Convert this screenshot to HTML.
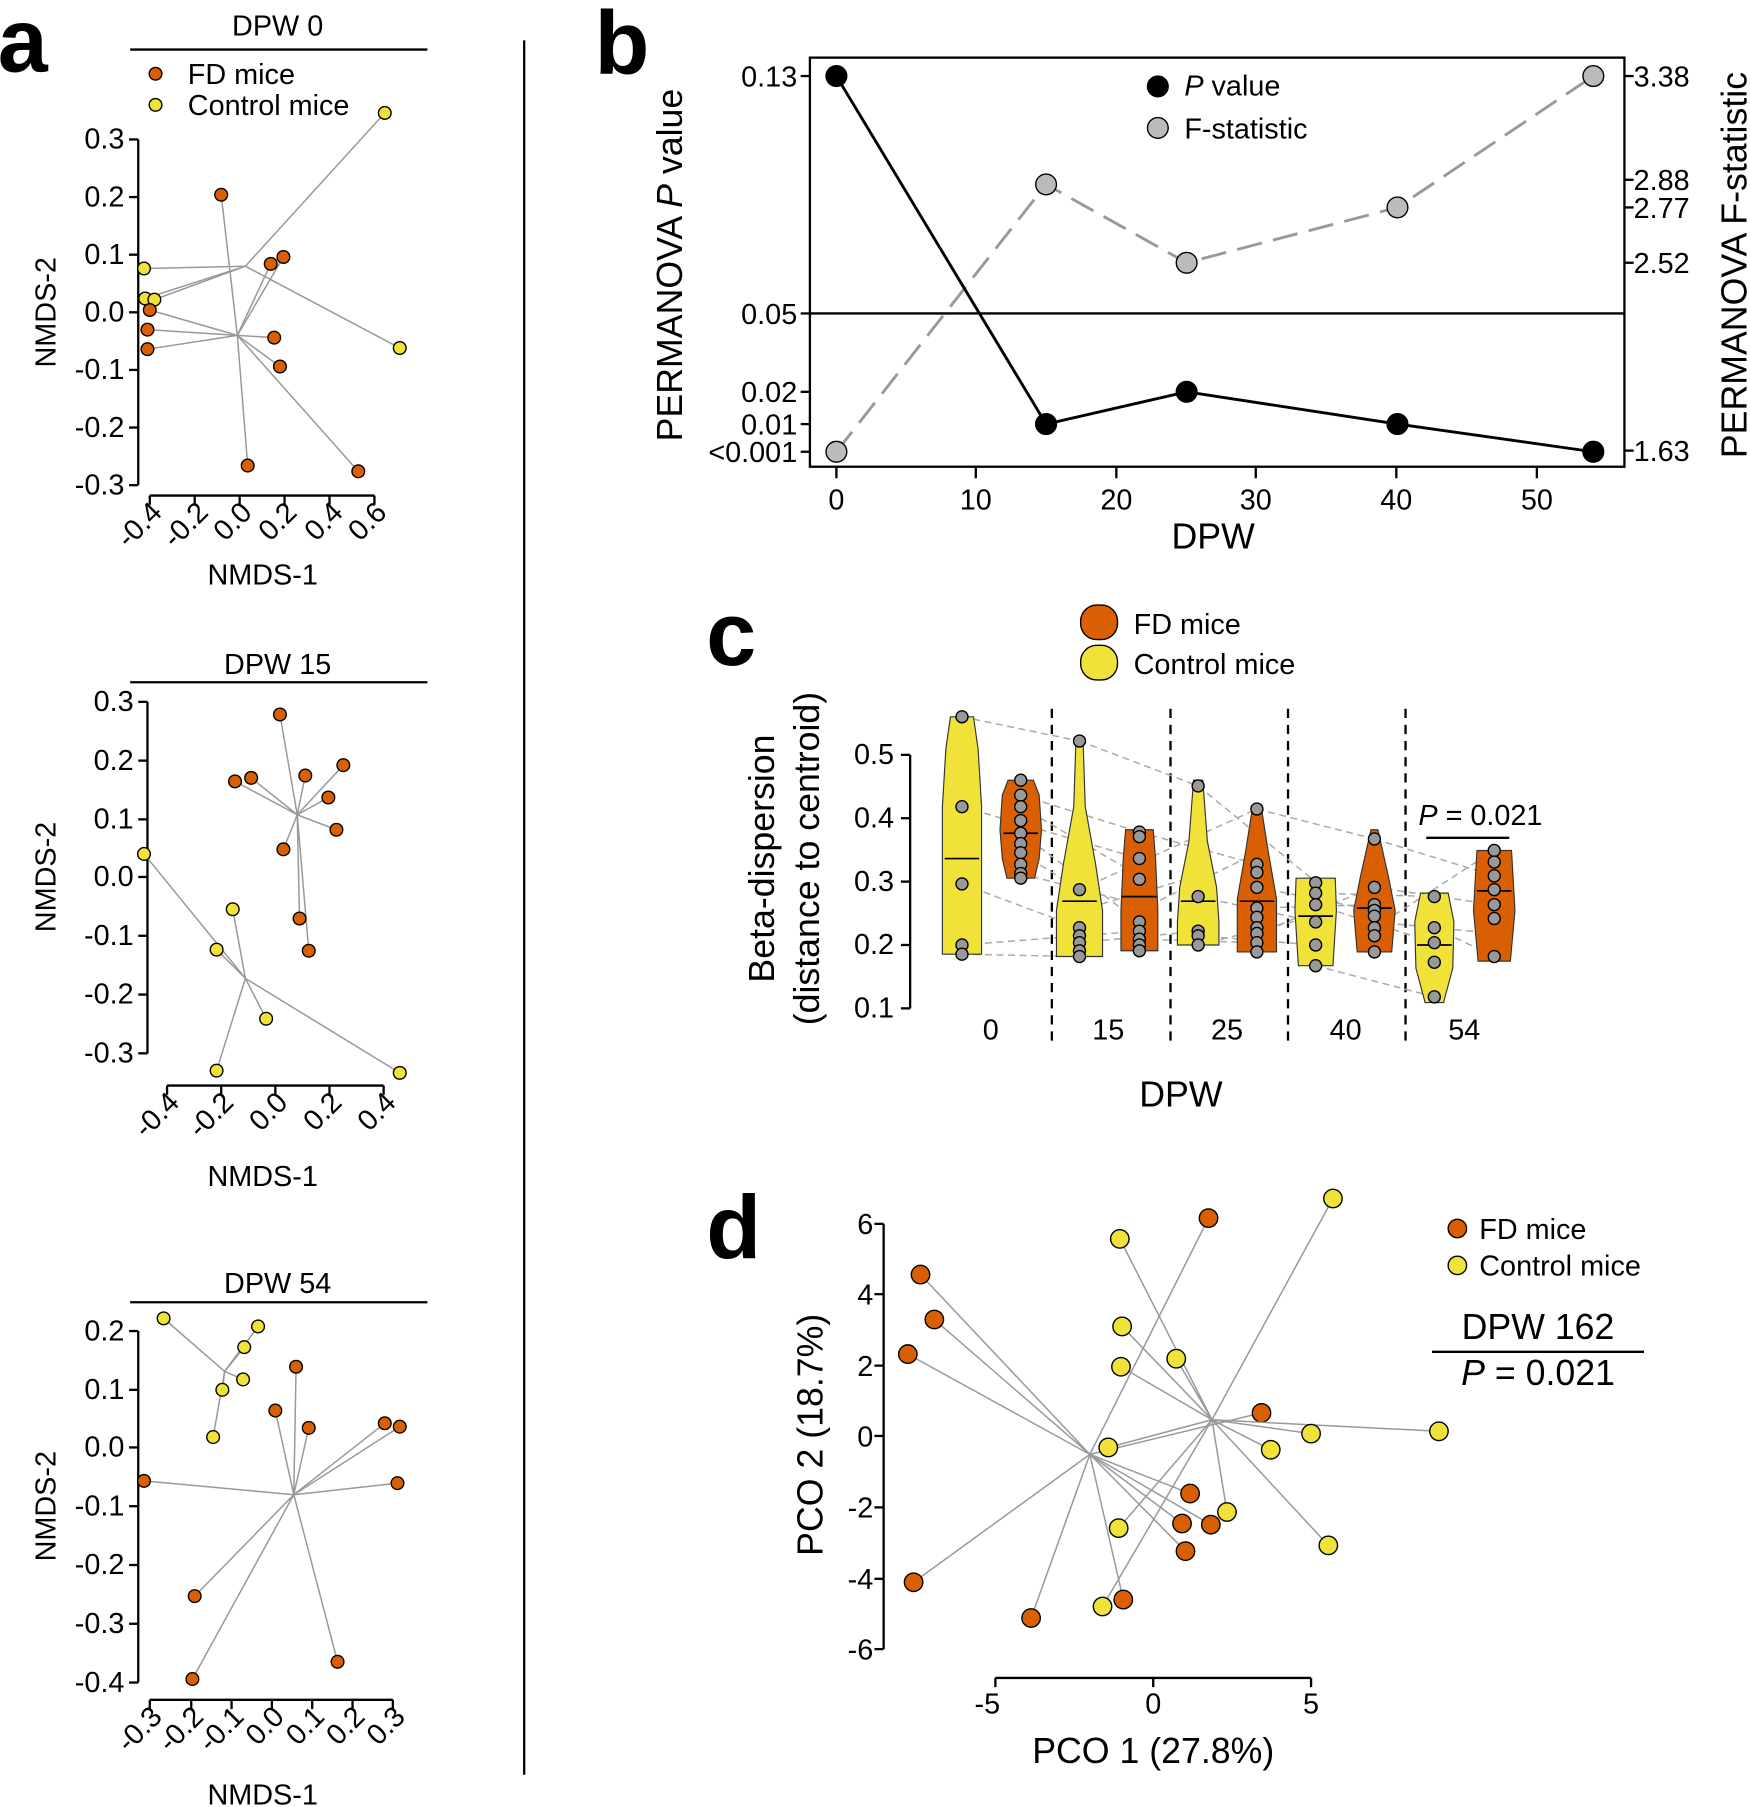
<!DOCTYPE html>
<html><head><meta charset="utf-8"><style>
html,body{margin:0;padding:0;background:#fff}
svg{display:block}
text{font-family:"Liberation Sans",Arial,sans-serif;fill:#000}
</style></head><body>
<svg id="s" xmlns="http://www.w3.org/2000/svg" width="1750" height="1807" viewBox="0 0 1519 1568" preserveAspectRatio="none">
<g id="g"></g>
<text x="-2" y="62" font-size="78" font-weight="bold">a</text>
<text x="516" y="64" font-size="78" font-weight="bold">b</text>
<text x="613" y="577" font-size="78" font-weight="bold">c</text>
<text x="613" y="1092" font-size="78" font-weight="bold">d</text>
<line x1="455" y1="35" x2="455" y2="1540" stroke="#000" stroke-width="2"/>

<text x="241" y="31" font-size="25" text-anchor="middle">DPW 0</text>
<line x1="113" y1="43" x2="371" y2="43" stroke="#000" stroke-width="2"/>
<text x="163" y="73" font-size="25">FD mice</text>
<text x="163" y="100" font-size="25">Control mice</text>
<text x="241" y="585" font-size="25" text-anchor="middle">DPW 15</text>
<line x1="113" y1="592" x2="371" y2="592" stroke="#000" stroke-width="2"/>
<text x="241" y="1122" font-size="25" text-anchor="middle">DPW 54</text>
<line x1="113" y1="1130" x2="371" y2="1130" stroke="#000" stroke-width="2"/>
<text x="228" y="507" font-size="25" text-anchor="middle">NMDS-1</text>
<text x="228" y="1029" font-size="25" text-anchor="middle">NMDS-1</text>
<text x="228" y="1566" font-size="25" text-anchor="middle">NMDS-1</text>
<text transform="translate(48,271) rotate(-90)" font-size="25" text-anchor="middle">NMDS-2</text>
<text transform="translate(48,761) rotate(-90)" font-size="25" text-anchor="middle">NMDS-2</text>
<text transform="translate(48,1307) rotate(-90)" font-size="25" text-anchor="middle">NMDS-2</text>

<g font-size="25" text-anchor="end">
<text x="108" y="129">0.3</text><text x="108" y="179">0.2</text><text x="108" y="229">0.1</text><text x="108" y="279">0.0</text><text x="108" y="329">-0.1</text><text x="108" y="379">-0.2</text><text x="108" y="429">-0.3</text>
<text x="116" y="617">0.3</text><text x="116" y="668">0.2</text><text x="116" y="719">0.1</text><text x="116" y="769">0.0</text><text x="116" y="820">-0.1</text><text x="116" y="871">-0.2</text><text x="116" y="922">-0.3</text>
<text x="108" y="1163">0.2</text><text x="108" y="1214">0.1</text><text x="108" y="1264">0.0</text><text x="108" y="1315">-0.1</text><text x="108" y="1366">-0.2</text><text x="108" y="1417">-0.3</text><text x="108" y="1468">-0.4</text>
</g>
<g font-size="25" text-anchor="end">
<text transform="translate(142,446) rotate(-45)">-0.4</text><text transform="translate(182,446) rotate(-45)">-0.2</text><text transform="translate(220,446) rotate(-45)">0.0</text><text transform="translate(259,446) rotate(-45)">0.2</text><text transform="translate(299,446) rotate(-45)">0.4</text><text transform="translate(337,446) rotate(-45)">0.6</text>
<text transform="translate(157,958) rotate(-45)">-0.4</text><text transform="translate(204,958) rotate(-45)">-0.2</text><text transform="translate(251,958) rotate(-45)">0.0</text><text transform="translate(298,958) rotate(-45)">0.2</text><text transform="translate(345,958) rotate(-45)">0.4</text>
<text transform="translate(142,1491) rotate(-45)">-0.3</text><text transform="translate(178,1491) rotate(-45)">-0.2</text><text transform="translate(213,1491) rotate(-45)">-0.1</text><text transform="translate(248,1491) rotate(-45)">0.0</text><text transform="translate(283,1491) rotate(-45)">0.1</text><text transform="translate(318,1491) rotate(-45)">0.2</text><text transform="translate(353,1491) rotate(-45)">0.3</text>
</g>

<rect x="703" y="50" width="707" height="355" fill="none" stroke="#000" stroke-width="2"/>
<line x1="703" y1="272" x2="1410" y2="272" stroke="#000" stroke-width="2"/>
<g font-size="25" text-anchor="end">
<text x="692" y="75">0.13</text><text x="692" y="281">0.05</text><text x="692" y="349">0.02</text><text x="692" y="377">0.01</text><text x="692" y="401">&lt;0.001</text>
</g>
<g font-size="25">
<text x="1418" y="75">3.38</text><text x="1418" y="165">2.88</text><text x="1418" y="189">2.77</text><text x="1418" y="237">2.52</text><text x="1418" y="400">1.63</text>
</g>
<g font-size="25" text-anchor="middle">
<text x="726" y="442">0</text><text x="847" y="442">10</text><text x="969" y="442">20</text><text x="1090" y="442">30</text><text x="1212" y="442">40</text><text x="1334" y="442">50</text>
</g>
<text x="1053" y="476" font-size="31" text-anchor="middle">DPW</text>
<text transform="translate(592,230) rotate(-90)" font-size="31" text-anchor="middle">PERMANOVA <tspan font-style="italic">P</tspan> value</text>
<text transform="translate(1516,230) rotate(-90)" font-size="31" text-anchor="middle">PERMANOVA F-statistic</text>
<text x="1028" y="83" font-size="25"><tspan font-style="italic">P</tspan> value</text>
<text x="1028" y="120" font-size="25">F-statistic</text>

<text x="984" y="550" font-size="25">FD mice</text>
<text x="984" y="585" font-size="25">Control mice</text>
<g font-size="25" text-anchor="end">
<text x="776" y="663">0.5</text><text x="776" y="718">0.4</text><text x="776" y="773">0.3</text><text x="776" y="828">0.2</text><text x="776" y="883">0.1</text>
</g>
<g font-size="25" text-anchor="middle">
<text x="860" y="902">0</text><text x="962" y="902">15</text><text x="1065" y="902">25</text><text x="1168" y="902">40</text><text x="1271" y="902">54</text>
</g>
<text x="1025" y="960" font-size="31" text-anchor="middle">DPW</text>
<text transform="translate(672,745) rotate(-90)" font-size="31" text-anchor="middle">Beta-dispersion</text>
<text transform="translate(711,745) rotate(-90)" font-size="31" text-anchor="middle">(distance to centroid)</text>
<text x="1285" y="716" font-size="25" text-anchor="middle"><tspan font-style="italic">P</tspan> = 0.021</text>
<line x1="1238" y1="727" x2="1310" y2="727" stroke="#000" stroke-width="2"/>

<g font-size="25" text-anchor="end">
<text x="758" y="1071">6</text><text x="758" y="1132">4</text><text x="758" y="1194">2</text><text x="758" y="1255">0</text><text x="758" y="1317">-2</text><text x="758" y="1379">-4</text><text x="758" y="1440">-6</text>
</g>
<g font-size="25" text-anchor="middle">
<text x="857" y="1487">-5</text><text x="1001" y="1487">0</text><text x="1138" y="1487">5</text>
</g>
<text x="1001" y="1530" font-size="31" text-anchor="middle">PCO 1 (27.8%)</text>
<text transform="translate(714,1245) rotate(-90)" font-size="31" text-anchor="middle">PCO 2 (18.7%)</text>
<text x="1284" y="1075" font-size="25">FD mice</text>
<text x="1284" y="1107" font-size="25">Control mice</text>
<text x="1335" y="1162" font-size="31" text-anchor="middle">DPW 162</text>
<line x1="1243" y1="1173" x2="1427" y2="1173" stroke="#000" stroke-width="2"/>
<text x="1335" y="1202" font-size="31" text-anchor="middle"><tspan font-style="italic">P</tspan> = 0.021</text>
</svg>
<script>
var NS="http://www.w3.org/2000/svg",g=document.getElementById("g");
function el(t,a){var e=document.createElementNS(NS,t);for(var k in a)e.setAttribute(k,a[k]);g.appendChild(e);return e;}
var OR="#d95f02",YE="#f1e23a";
function ln(x1,y1,x2,y2,s,w,d){var o={x1:x1,y1:y1,x2:x2,y2:y2,stroke:s||"#000","stroke-width":w||2};if(d)o["stroke-dasharray"]=d;el("line",o);}
function dot(x,y,r,f,sw){el("circle",{cx:x,cy:y,r:r,fill:f,stroke:"#000","stroke-width":sw||1.2});}
function spider(c,pts,col,r){pts.forEach(function(p){ln(c[0],c[1],p[0],p[1],"#999",1.3);});pts.forEach(function(p){dot(p[0],p[1],r,col);});}
ln(120,121,120,421);[121,171,221,271,321,371,421].forEach(function(y){ln(112,y,120,y);});
ln(130,430,325,430);[130,169,208,247,286,325].forEach(function(x){ln(x,430,x,438);});
ln(128,609,128,914);[609,660,711,761,812,863,914].forEach(function(y){ln(120,y,128,y);});
ln(145,942,333,942);[145,192,239,286,333].forEach(function(x){ln(x,942,x,950);});
ln(120,1155,120,1460);[1155,1206,1256,1307,1358,1409,1460].forEach(function(y){ln(112,y,120,y);});
ln(130,1475,341,1475);[130,166,201,236,271,306,341].forEach(function(x){ln(x,1475,x,1483);});
dot(135,64,5.5,OR);dot(135,91,5.5,YE);
spider([213,231],[[334,98],[125,233],[126,259],[134,260],[347,302]],YE,5.5);
spider([206,291],[[192,169],[235,229],[246,223],[130,269],[128,286],[128,303],[238,293],[243,318],[215,404],[311,409]],OR,5.5);
spider([258,707],[[243,620],[298,664],[204,678],[218,675],[265,673],[285,692],[292,720],[246,737],[260,797],[268,825]],OR,5.5);
spider([213,849],[[125,741],[202,789],[188,824],[231,884],[188,929],[347,931]],YE,5.5);
spider([195,1190],[[142,1144],[224,1151],[212,1169],[211,1197],[193,1206],[185,1247]],YE,5.5);
spider([255,1297],[[257,1186],[239,1224],[268,1239],[334,1235],[347,1238],[125,1285],[345,1287],[169,1385],[167,1457],[293,1442]],OR,5.5);
[726,847,969,1090,1212,1334].forEach(function(x){ln(x,405,x,415);});
[66,272,340,368,392].forEach(function(y){ln(695,y,703,y);});
[66,156,180,228,391].forEach(function(y){ln(1410,y,1418,y);});
var F=[[726,392],[908,160],[1030,228],[1213,180],[1383,66]],P=[[726,66],[908,368],[1030,340],[1213,368],[1383,392]];
el("polyline",{points:F.join(" "),fill:"none",stroke:"#999","stroke-width":2.5,"stroke-dasharray":"22,10"});
el("polyline",{points:P.join(" "),fill:"none",stroke:"#000","stroke-width":2.5});
F.forEach(function(p){dot(p[0],p[1],9,"#bbb");});P.forEach(function(p){dot(p[0],p[1],9,"#000");});
dot(1005,75,9,"#000");dot(1005,111,9,"#bbb");
ln(790,655,790,875);[655,710,765,820,875].forEach(function(y){ln(782,y,790,y);});
[913,1016,1118,1220].forEach(function(x){ln(x,615,x,905,"#000",2,"8,6");});
el("rect",{x:938,y:525,width:32,height:30,rx:14,fill:OR,stroke:"#000","stroke-width":1.2});
el("rect",{x:938,y:560,width:32,height:30,rx:14,fill:YE,stroke:"#000","stroke-width":1.2});
function vio(cx,prof,col,med,pts){var L=[],R=[];prof.forEach(function(p){L.push((cx-p[1])+","+p[0]);R.unshift((cx+p[1])+","+p[0]);});
el("polygon",{points:L.concat(R).join(" "),fill:col,stroke:"#333","stroke-width":1});ln(cx-15,med,cx+15,med,"#000",1.5);
pts.forEach(function(y){dot(cx,y,5.2,"#999");});}
var vs=[
[835,[[622,10],[650,14],[700,17],[760,17],[800,17],[828,17]],YE,745,[622,700,767,820,828]],
[886,[[677,11],[690,16],[720,18],[745,16],[762,12]],OR,723,[677,690,700,712,723,732,740,750,758,762]],
[937,[[640,3],[700,5],[750,14],[790,20],[830,20]],YE,782,[643,772,805,812,818,825,830]],
[989,[[720,12],[745,14],[790,16],[825,16]],OR,778,[722,726,745,763,800,808,815,820,825]],
[1040,[[677,4],[730,8],[770,16],[800,18],[820,18]],YE,782,[682,778,808,812,820]],
[1091,[[702,4],[740,10],[780,17],[826,17]],OR,782,[702,750,757,770,788,796,805,810,818,826]],
[1142,[[762,17],[790,18],[838,15]],YE,795,[766,775,785,800,820,838]],
[1193,[[720,3],[760,12],[790,18],[826,15]],OR,788,[728,770,785,790,795,805,812,826]],
[1245,[[775,12],[800,17],[840,16],[870,8]],YE,820,[778,805,818,835,865]],
[1297,[[738,15],[790,18],[834,14]],OR,773,[738,748,760,772,785,797,830]]];
var dl=[[835,622,937,643],[937,643,1040,682],[1040,682,1143,766],[835,700,989,745],[835,767,937,805],[835,820,989,808],[835,828,937,830],[886,690,989,722],[886,723,989,800],[886,740,937,772],[937,772,1091,702],[1091,702,1193,728],[1193,728,1297,760],[989,722,1091,750],[1040,778,1142,800],[1091,770,1193,790],[1142,775,1245,778],[1142,838,1245,865],[1193,805,1297,738],[1245,805,1297,830],[989,815,1091,818],[1040,812,1142,820],[1091,788,1193,785],[1142,785,1245,818],[1193,770,1297,785],[937,818,1040,808],[886,758,989,785],[1040,820,1142,795],[886,700,989,760],[937,790,1040,760],[989,790,1091,740],[1091,810,1193,770],[1193,800,1297,810]];
dl.forEach(function(d){ln(d[0],d[1],d[2],d[3],"#aaa",1.3,"6,4");});
vs.forEach(function(v){vio(v[0],v[1],v[2],v[3],v[4]);});
ln(767,1062,767,1431);[1062,1123,1185,1246,1308,1370,1431].forEach(function(y){ln(759,y,767,y);});
ln(864,1456,1138,1456);[864,1001,1138].forEach(function(x){ln(x,1456,x,1464);});
dot(1265,1066,8,OR);dot(1265,1098,8,YE);
spider([946,1262],[[1049,1057],[799,1106],[811,1145],[788,1175],[1095,1226],[1033,1296],[1026,1322],[1051,1323],[1029,1346],[975,1388],[895,1404],[793,1373]],OR,8);
spider([1052,1232],[[1157,1040],[972,1075],[974,1151],[973,1186],[1021,1179],[962,1256],[1138,1244],[1103,1258],[1249,1242],[1065,1312],[971,1326],[1153,1341],[957,1394]],YE,8);
</script>
</body></html>
